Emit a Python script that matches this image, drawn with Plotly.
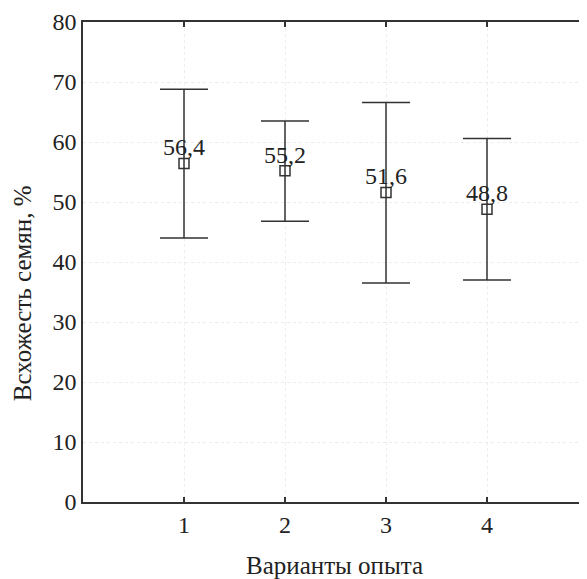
import plotly.graph_objects as go

variants = [1, 2, 3, 4]
means = [56.4, 55.2, 51.6, 48.8]
err_plus = [12.4, 8.3, 15.0, 11.8]
err_minus = [12.4, 8.4, 15.1, 11.8]
labels = ["56,4", "55,2", "51,6", "48,8"]
y_ticks = [0, 10, 20, 30, 40, 50, 60, 70, 80]

line_col = "#333333"
ff = "Liberation Serif, Times New Roman, serif"
font = dict(family=ff, size=24, color="#222222")
title_font = dict(family=ff, size=25, color="#222222")

fig = go.Figure()
fig.add_trace(go.Scatter(
    x=variants, y=means, mode="markers",
    marker=dict(symbol="square-open", size=10, color=line_col, line=dict(width=1.5, color=line_col)),
    error_y=dict(type="data", symmetric=False, array=err_plus, arrayminus=err_minus,
                 color=line_col, thickness=1.5, width=24),
    showlegend=False, cliponaxis=False,
))
fig.add_trace(go.Scatter(
    x=variants, y=means, mode="markers+text",
    text=labels, textposition="top center",
    textfont=dict(family=ff, size=24, color="#222222"),
    marker=dict(size=2, opacity=0),
    showlegend=False, cliponaxis=False, hoverinfo="skip",
))
fig.add_trace(go.Scatter(x=[None], y=[None], yaxis="y2", showlegend=False))

fig.update_layout(
    width=587, height=579,
    margin=dict(l=75, r=7, t=14, b=85),
    paper_bgcolor="white", plot_bgcolor="white",
    font=font,
    xaxis=dict(range=[0, 5], tickvals=variants, ticktext=[str(v) for v in variants],
               automargin=False,
               showline=True, linecolor=line_col, linewidth=1.5, mirror="ticks",
               ticks="inside", ticklen=5, tickcolor=line_col, tickwidth=1.5,
               showgrid=True, gridcolor="#ececec", griddash="dot", gridwidth=1,
               zeroline=False, tickfont=font),
    yaxis=dict(range=[0, 80], tickvals=y_ticks, automargin=False,
               showline=True, linecolor=line_col, linewidth=1.5,
               ticks="", showgrid=True, gridcolor="#ececec", griddash="dot", gridwidth=1,
               zeroline=False, tickfont=font),
    yaxis2=dict(range=[0, 80], tickvals=y_ticks, overlaying="y", side="right",
                automargin=False,
                showticklabels=False, ticks="inside", ticklen=5, tickcolor=line_col,
                tickwidth=1.5, showgrid=False, showline=False, zeroline=False),
    annotations=[
        dict(text="Всхожесть семян, %", xref="paper", yref="paper", x=-0.1208, y=0.435,
             xanchor="center", yanchor="middle", textangle=-90, showarrow=False, font=title_font),
        dict(text="Варианты опыта", xref="paper", yref="paper", x=0.499, y=-0.13125,
             xanchor="center", yanchor="middle", showarrow=False, font=title_font),
    ],
)

fig.write_html("out.html")
